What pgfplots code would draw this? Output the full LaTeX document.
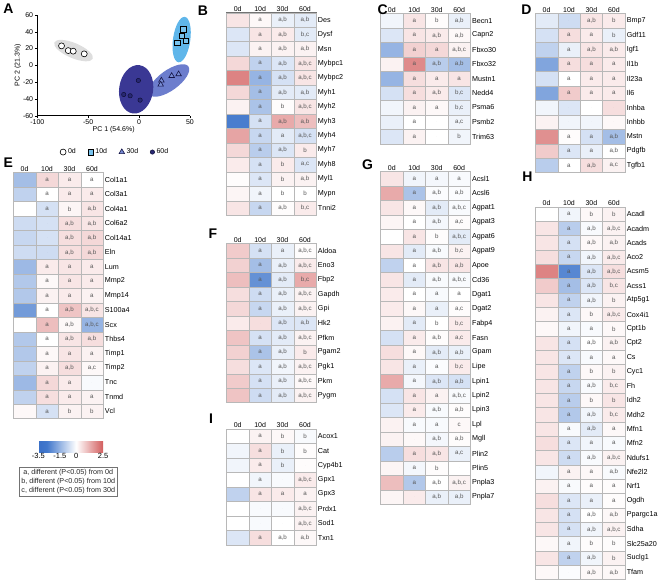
\documentclass[border=0pt]{standalone}
\usepackage{pgfplots}
\pgfplotsset{compat=1.18}
\usepackage{pgfplotstable}
\usepackage{fontspec}
\setmainfont{Liberation Sans}
\newcommand{\fs}[1]{\fontsize{#1}{#1}\selectfont}
\newcommand{\lbl}{\if-\pgfplotspointmeta\else\pgfplotspointmeta\fi}

\pgfdeclareplotmark{cell}{\pgfpathrectangle{\pgfpoint{-11.25pt}{-7.25pt}}{\pgfpoint{22.5pt}{14.5pt}}\pgfusepathqfillstroke}

\pgfplotsset{
  colormap={hmap}{rgb255(0pt)=(58,112,200); rgb255(8pt)=(66,120,204); rgb255(35pt)=(255,255,255); rgb255(60pt)=(210,92,92)},
  heatax/.style={
    scale only axis, width=90pt, anchor=north west,
    xmin=-0.5, xmax=3.5, ymax=0.5,
    point meta min=-3.5, point meta max=2.5, colormap name=hmap,
    axis on top, clip=false,
    xtick={0,1,2,3}, xticklabels={0d,10d,30d,60d}, xticklabel pos=upper,
    yticklabel pos=right,
    major tick length=0pt, tick style={draw=none},
    xticklabel style={font=\fs{7}, inner sep=1pt},
    yticklabel style={font=\fs{7.2}, inner sep=1.5pt},
    axis line style={black!55, line width=0.6pt},
    extra x ticks={0.5}, extra x tick labels={},
    extra x tick style={grid=major, major grid style={black, line width=0.9pt}},
  },
  heatcell/.style={scatter, only marks, mark=cell,
    scatter/use mapped color={draw=black!28, fill=mapped color}, mark options={line width=0.35pt}},
  heatlab/.style={only marks, mark=*, mark size=0pt, mark options={draw=none, fill=none},
    point meta=explicit symbolic,
    nodes near coords={\lbl}, nodes near coords align=center,
    nodes near coords style={font=\fs{6.2}, text=black!65, inner sep=0pt, anchor=center}},
}

\pgfplotstableread{
g v0 v1 v2 v3 l1 l2 l3
Des 0.4 0.1 -0.3 -0.4 a a,b a,b
Dysf -0.5 0.4 0.3 -0.4 a a,b b,c
Msn -0.5 0.2 0.2 0.2 a a,b a,b
Mybpc1 0.6 -0.9 -0.5 0.4 a a,b a,b,c
Mybpc2 1.9 -1.5 -0.6 0.4 a a,b a,b,c
Myh1 0.6 -1.3 -0.4 -0.4 a a,b a,b
Myh2 0.2 -1.2 0.05 0.4 a b a,b,c
Myh3 -2.6 -0.6 1.3 1.0 a a,b a,b
Myh4 1.4 -0.8 -0.4 -0.6 a a a,b,c
Myh7 0.6 -1.0 -0.5 0.3 a a,b b
Myh8 0.3 -0.6 0.3 -0.5 a b a,c
Myl1 0.05 -0.5 0.2 0.2 a b a,b
Mypn 0.15 -0.2 0 0 a b b
Tnni2 0.4 -0.8 0.05 0.3 a a,b b,c
}\tblB

\pgfplotstableread{
g v0 v1 v2 v3 l1 l2 l3
Becn1 -0.2 0.4 0.05 -0.3 a b a,b
Capn2 -0.5 0.4 0.3 0.1 a a,b a,b
Fbxo30 -1.5 0.7 0.6 0.2 a a a,b,c
Fbxo32 0.2 1.8 -1.0 -1.3 a a,b a,b
Mustn1 -1.5 0.5 0.3 0.4 a a a
Nedd4 -0.6 0.5 0.3 -0.5 a a,b b,c
Psma6 -0.2 0.2 0.1 -0.3 a a b,c
Psmb2 -0.3 0 0 -0.2 a - a,c
Trim63 -0.5 0.2 0 -0.2 a - b
}\tblC

\pgfplotstableread{
g v0 v1 v2 v3 l1 l2 l3
Bmp7 -0.4 -0.7 0.4 0.3 - a,b b
Gdf11 -0.6 0.5 0.3 -0.3 a a b
Igf1 -0.9 -0.3 0.4 0.3 a a,b a,b
Il1b -1.8 0.5 0.5 0.3 a a a
Il23a -0.6 0 0.3 0.3 a a a
Il6 -1.8 0.8 0.3 0.3 a a a
Inhba -0.2 -0.5 0 0.5 - - -
Inhbb 0.2 -0.2 -0.2 0.1 - - -
Mstn 1.7 0.05 -0.6 -1.3 a a a,b
Pdgfb 0.8 -0.5 -0.3 0 a a a,b
Tgfb1 -1.0 0 0.5 0.2 a a,b a,c
}\tblD

\pgfplotstableread{
g v0 v1 v2 v3 l1 l2 l3
Col1a1 -1.3 0.6 0.3 0 a a a
Col3a1 -0.9 0 0.3 0.3 a a a
Col4a1 0 -0.6 0.15 0.4 a b a,b
Col6a2 -0.7 -0.6 0.5 0.4 - a,b a,b
Col14a1 -0.8 -0.6 0.5 0.6 - a,b a,b
Eln -0.7 -0.7 0.5 0.6 - a,b a,b
Lum -1.4 0.3 0.4 0.3 a a a
Mmp2 -1.1 0.1 0.4 0.3 a a a
Mmp14 -1.1 0.2 0.3 0.2 a a a
S100a4 -2.0 0 0.9 0.4 a a,b a,b,c
Scx 0 1.0 0.1 -1.5 a a,b a,b,c
Thbs4 -1.1 0 0.4 0.5 a a,b a,b
Timp1 -1.1 0.1 0.4 0.2 a a a
Timp2 -0.9 0.2 0.5 0.1 a a,b a,c
Tnc -1.4 0.6 0.3 -0.1 a a -
Tnmd -0.9 0.5 0.3 0.2 a a a
Vcl 0.1 -0.6 0.2 0.2 a b b
}\tblE

\pgfplotstableread{
g v0 v1 v2 v3 l1 l2 l3
Aldoa 0.8 -0.6 -0.3 0.05 a a a,b,c
Eno3 0.7 -1.3 -0.3 0.3 a a,b a,b,c
Fbp2 1.0 -2.2 -0.4 1.3 a a,b b,c
Gapdh 0.5 -0.7 -0.3 0.2 a a,b a,b,c
Gpi 0.6 -0.8 -0.3 0.2 a a,b a,b,c
Hk2 0.3 0.5 -0.5 -0.5 - a,b a,b
Pfkm 0.9 -0.6 -0.4 0.2 a a,b a,b,c
Pgam2 0.7 -1.2 -0.3 0.3 a a,b b
Pgk1 0.5 -0.5 -0.2 0.2 a a,b a,b,c
Pkm 0.8 -0.6 -0.3 0.1 a a,b a,b,c
Pygm 0.9 -0.7 -0.4 0.2 a a,b a,b,c
}\tblF

\pgfplotstableread{
g v0 v1 v2 v3 l1 l2 l3
Acsl1 0.4 -0.2 -0.15 -0.1 a a a
Acsl6 1.3 -1.2 -0.05 -0.05 a a,b a,b
Agpat1 0.4 0.1 -0.4 -0.1 a a,b a,b,c
Agpat3 0.15 0 -0.15 0.05 a a,b a,c
Agpat6 0 0.4 0.05 -0.4 a b a,b,c
Agpat9 0.4 -0.4 -0.1 0.2 a a,b b,c
Apoe -0.9 0 0.4 0.4 a a,b a,b
Cd36 0.4 -0.4 -0.1 -0.1 a a,b a,b,c
Dgat1 0.3 0 -0.1 0 a a a
Dgat2 0.3 0.1 -0.3 0.05 a a a,c
Fabp4 0.2 -0.4 0 0.3 a b b,c
Fasn -0.6 0.3 0.05 0.3 a a,b a,c
Gpam 0.5 0.1 -0.4 -0.3 a a,b a,b
Lipe 0.4 -0.3 -0.05 0.3 a a b,c
Lpin1 1.3 -0.15 -0.5 -0.6 a a,b a,b
Lpin2 -0.6 0.4 0.2 -0.1 a a a,b,c
Lpin3 -0.5 0.3 -0.1 0.05 a a,b a,b
Lpl 0.2 -0.1 -0.1 0.1 a a c
Mgll 0.2 0.1 -0.15 0.05 - a,b a,b
Plin2 -1.0 0.5 0.4 -0.3 a a,b a,c
Plin5 0.15 -0.15 0.05 0 a b -
Pnpla3 1.0 -1.1 0 0.2 a a,b a,b,c
Pnpla7 0.15 0.3 -0.3 -0.3 - a,b a,b
}\tblG

\pgfplotstableread{
g v0 v1 v2 v3 l1 l2 l3
Acadl 0 -0.2 0.1 0.2 a b b
Acadm 0.4 -1.0 -0.1 0.2 a a,b a,b,c
Acads 0.4 -0.6 0.1 0.2 a a,b a,b
Aco2 0.5 -0.8 -0.2 0.3 a a,b a,b,c
Acsm5 1.9 -2.4 -0.5 0.5 a a,b a,b,c
Acss1 0.8 -1.3 -0.5 0.4 a a,b b,c
Atp5g1 0.4 -0.9 -0.2 0.2 a a,b b
Cox4i1 0.2 -0.5 0.1 0.3 a b a,b,c
Cpt1b 0.1 -0.2 -0.1 0.1 a a b
Cpt2 0.4 -0.6 0 0.2 a a,b a,b
Cs 0.4 -0.5 -0.1 0.1 a a a
Cyc1 0.4 -0.9 0.1 0.2 a b b
Fh 0.4 -0.8 -0.1 0.3 a a,b b,c
Idh2 0.4 -1.0 0.1 0.4 a b b
Mdh2 0.4 -1.1 -0.2 0.3 a a,b b,c
Mfn1 0.4 -0.1 -0.4 0.1 a a,b a
Mfn2 0.5 -0.5 -0.2 -0.1 a a a
Ndufs1 0.4 -0.7 -0.1 0.2 a a,b a,b,c
Nfe2l2 -0.2 0.2 0.1 -0.1 a a a,b
Nrf1 0.2 -0.1 0.05 0.05 a a a
Ogdh 0.5 -0.5 -0.3 0.05 a a a
Ppargc1a 0.4 -0.6 0 0.1 a a,b a,b
Sdha 0.4 -0.6 -0.2 0.2 a a,b a,b,c
Slc25a20 0.1 -0.2 0.05 0.05 a b b
Suclg1 0.4 -0.9 -0.2 0.2 a a,b b
Tfam 0.1 -0.05 0.1 0.1 - a,b a,b
}\tblH

\pgfplotstableread{
g v0 v1 v2 v3 l1 l2 l3
Acox1 0 0.2 0.1 -0.1 a b b
Cat -0.2 0.5 -0.3 0.05 a b b
Cyp4b1 -0.2 0.3 -0.3 0.05 a b -
Gpx1 0 -0.2 -0.1 0.3 a - a,b,c
Gpx3 -0.9 0.4 0.3 0.2 a a a
Prdx1 0 -0.1 -0.1 0.2 - - a,b,c
Sod1 0 -0.1 0 0.2 - - a,b,c
Txn1 -0.5 0.5 0 0.1 a a,b a,b
}\tblI

\newcommand{\heatplots}[1]{%
  \addplot[heatcell, point meta=\thisrow{v0}] table[x expr=0, y expr=-\coordindex] {#1};
  \addplot[heatcell, point meta=\thisrow{v1}] table[x expr=1, y expr=-\coordindex] {#1};
  \addplot[heatcell, point meta=\thisrow{v2}] table[x expr=2, y expr=-\coordindex] {#1};
  \addplot[heatcell, point meta=\thisrow{v3}] table[x expr=3, y expr=-\coordindex] {#1};
  \addplot[heatlab] table[x expr=1, y expr=-\coordindex, meta=l1] {#1};
  \addplot[heatlab] table[x expr=2, y expr=-\coordindex, meta=l2] {#1};
  \addplot[heatlab] table[x expr=3, y expr=-\coordindex, meta=l3] {#1};
}

\begin{document}
\begin{tikzpicture}
\path (0,0) rectangle (667pt,-580pt);

% ---------- Panel A ----------
\begin{axis}[at={(36pt,-15pt)}, anchor=north west, scale only axis, width=153pt, height=101pt,
  xmin=-100, xmax=50, ymin=-60, ymax=60,
  axis x line*=bottom, axis y line*=left,
  xtick={-100,-50,0,50}, ytick={-60,-40,...,60},
  tick align=outside, major tick length=2.5pt, tick style={black, line width=0.5pt},
  axis line style={line width=0.6pt},
  ticklabel style={font=\fs{7}, inner sep=1.5pt}, /pgf/number format/assume math mode=true,
  xlabel={PC 1 (54.6\%)}, ylabel={PC 2 (21.3\%)}, label style={font=\fs{7}},
  xlabel style={yshift=3pt}, ylabel style={yshift=-3pt},
  legend columns=4,
  legend style={draw=none, at={(0.51,-0.36)}, anchor=center, font=\fs{7}, inner sep=0pt,
    /tikz/every even column/.append style={column sep=10pt}},
  clip=false]
  \fill[black!13, rotate around={-23:(axis cs:-64.4,17.6)}] (axis cs:-64.4,17.6) ellipse [x radius=20.5, y radius=9];
  \fill[color={rgb,255:red,95;green,182;blue,234}, rotate around={-8:(axis cs:41.8,30.7)}] (axis cs:41.8,30.7) ellipse [x radius=8.5, y radius=27.3];
  \fill[color={rgb,255:red,108;green,125;blue,205}, rotate around={36:(axis cs:29.4,-18)}] (axis cs:29.4,-18) ellipse [x radius=23.5, y radius=12];
  \fill[color={rgb,255:red,58;green,56;blue,148}, rotate around={-8:(axis cs:-2.9,-28.5)}] (axis cs:-2.9,-28.5) ellipse [x radius=16.7, y radius=29];
  \addplot[only marks, mark=*, mark size=3pt, mark options={fill=white, draw=black, line width=0.6pt}]
    coordinates {(-76.2,23.2) (-69.6,17.6) (-64.7,16.9) (-53.9,13.7)};
  \addlegendentry{0d}
  \addplot[only marks, mark=square*, mark size=2.8pt, mark options={fill={rgb,255:red,120;green,195;blue,238}, draw=black, line width=0.6pt}]
    coordinates {(43.7,43) (41.8,35) (37.5,27.1) (45.7,29.1)};
  \addlegendentry{10d}
  \addplot[only marks, mark=triangle*, mark size=3.2pt, mark options={fill={rgb,255:red,120;green,140;blue,212}, draw={rgb,255:red,20;green,20;blue,70}, line width=0.6pt}]
    coordinates {(21.9,-18) (21.2,-22.8) (32,-12.5) (38.8,-10.5)};
  \addlegendentry{30d}
  \addplot[only marks, mark=*, mark size=2.2pt, mark options={fill={rgb,255:red,40;green,40;blue,115}, draw={rgb,255:red,15;green,15;blue,55}, line width=0.5pt}]
    coordinates {(-0.7,-18) (-15.1,-34.7) (-8.8,-36.2) (1,-41.4)};
  \addlegendentry{60d}
\end{axis}

% ---------- Heatmaps ----------
\begin{axis}[heatax, at={(225.5pt,-12.7pt)}, height=203pt, ymin=-13.5,
  ytick={0,-1,...,-13}, yticklabels from table={\tblB}{g}]
  \heatplots{\tblB}
\end{axis}
\begin{axis}[heatax, at={(380pt,-13.5pt)}, height=130.5pt, ymin=-8.5,
  ytick={0,-1,...,-8}, yticklabels from table={\tblC}{g}]
  \heatplots{\tblC}
\end{axis}
\begin{axis}[heatax, at={(535pt,-13.5pt)}, height=159.5pt, ymin=-10.5,
  ytick={0,-1,...,-10}, yticklabels from table={\tblD}{g}]
  \heatplots{\tblD}
\end{axis}
\begin{axis}[heatax, at={(12pt,-173pt)}, height=246.5pt, ymin=-16.5,
  ytick={0,-1,...,-16}, yticklabels from table={\tblE}{g}]
  \heatplots{\tblE}
\end{axis}
\begin{axis}[heatax, at={(225.5pt,-244pt)}, height=159.5pt, ymin=-10.5,
  ytick={0,-1,...,-10}, yticklabels from table={\tblF}{g}]
  \heatplots{\tblF}
\end{axis}
\begin{axis}[heatax, at={(380pt,-171.7pt)}, height=333.5pt, ymin=-22.5,
  ytick={0,-1,...,-22}, yticklabels from table={\tblG}{g}]
  \heatplots{\tblG}
\end{axis}
\begin{axis}[heatax, at={(535pt,-207.5pt)}, height=373.1pt, ymin=-25.5,
  ytick={0,-1,...,-25}, yticklabels from table={\tblH}{g}]
  \heatplots{\tblH}
\end{axis}
\begin{axis}[heatax, at={(225.5pt,-430pt)}, height=116pt, ymin=-7.5,
  ytick={0,-1,...,-7}, yticklabels from table={\tblI}{g}]
  \heatplots{\tblI}
\end{axis}

% colour scale
\begin{axis}[at={(37pt,-442pt)}, anchor=north west, scale only axis, width=65pt, height=11pt,
  hide axis, colormap name=hmap, point meta min=-3.5, point meta max=2.5,
  colorbar horizontal,
  colorbar style={at={(0,1)}, anchor=north west, width=65pt, height=11pt,
    xtick={-3.5,-1.5,0,2.5}, major tick length=0pt, axis line style={draw=none},
    xticklabel style={font=\fs{7.5}, inner sep=1.5pt}, /pgf/number format/assume math mode=true}]
  \addplot[draw=none] coordinates {(0,0) (1,1)};
\end{axis}

\node[draw=black!55, line width=0.5pt, align=center, font=\fontsize{7.2}{8.8}\selectfont, inner sep=2.5pt, text=black!85]
  at (67pt,-482.5pt) {a, different (P<0.05) from 0d\\ b, different (P<0.05) from 10d\\ c, different (P<0.05) from 30d};

% panel letters
\foreach \t/\x/\y in {A/7/9, B/202/11, C/382/10, D/526/10, E/7/163, F/212/234, G/367/165, H/527/177, I/210/420}
  \node[font=\bfseries\fs{14}] at (\x pt,-\y pt) {\t};
\end{tikzpicture}
\end{document}
